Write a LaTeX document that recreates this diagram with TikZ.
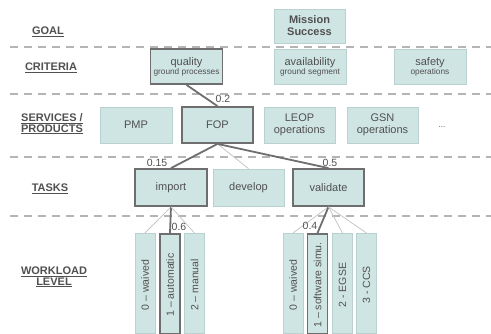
\documentclass[tikz,border=0pt]{standalone}
\usepackage{fontspec}
\setmainfont{Liberation Sans}
\definecolor{boxfill}{HTML}{CFE5E3}
\definecolor{boxedge}{HTML}{B9D2D0}
\definecolor{darkedge}{HTML}{6E6E6E}
\definecolor{txt}{HTML}{505050}
\definecolor{dashc}{HTML}{B4B4B4}
\definecolor{thinc}{HTML}{C6C6C6}
\begin{document}
\begin{tikzpicture}[x=1pt,y=-1pt,
  box/.style={draw=boxedge,line width=0.8pt,fill=boxfill,text=txt,inner sep=1pt,align=center,font=\fontsize{11}{12}\selectfont},
  hbox/.style={box,draw=darkedge,line width=1.8pt},
  vbox/.style={draw=boxedge,line width=0.8pt,fill=boxfill,minimum width=20pt,minimum height=100pt,anchor=north,inner sep=0pt},
  hvbox/.style={vbox,draw=darkedge,line width=1.8pt},
  vtext/.style={rotate=90,text=txt,font=\fontsize{10.5}{11}\selectfont},
  lvl/.style={text=txt,font=\bfseries\fontsize{11}{12.5}\selectfont,align=center},
  sep/.style={dashc,line width=1.2pt,dash pattern=on 8pt off 6pt},
  strong/.style={darkedge,line width=1.8pt},
  weak/.style={thinc,line width=0.8pt},
  sub/.style={},
  wt/.style={text=txt,font=\fontsize{10.5}{11}\selectfont,inner sep=0pt}]
\useasboundingbox (0,0) rectangle (491,333);
% separators
\draw[sep] (10,47) -- (491,47);
\draw[sep] (10,94) -- (491,94);
\draw[sep] (10,157) -- (491,157);
\draw[sep] (10,216) -- (491,216);
% level labels
\node[lvl] (lgoal) at (48,32) {\underline{GOAL}};
\node[lvl] (lcrit) at (51,68) {\underline{CRITERIA}};
\node[lvl] (lserv) at (52,124) {\underline{SERVICES /}\\[-2pt]\underline{PRODUCTS}};
\node[lvl] (ltask) at (50,189) {\underline{TASKS}};
\node[lvl] (lwork) at (54,277) {\underline{WORKLOAD}\\[-2pt]\underline{LEVEL}};
% goal
\node[box,minimum width=71pt,minimum height=34pt,font=\bfseries\fontsize{11}{12}\selectfont] (mission) at (309.5,26) {Mission\\Success};
% criteria
\node[hbox,minimum width=72pt,minimum height=35pt] (quality) at (186.5,66.5) {quality\\[-3pt]{\fontsize{8.3}{9}\selectfont ground processes}};
\node[box,minimum width=72pt,minimum height=35pt] (avail) at (310,66.5) {availability\\[-3pt]{\fontsize{8.3}{9}\selectfont ground segment}};
\node[box,minimum width=72pt,minimum height=35pt] (safety) at (430,66.5) {safety\\[-3pt]{\fontsize{8.3}{9}\selectfont operations}};
% services
\node[box,minimum width=72pt,minimum height=36pt] (pmp) at (136,125) {PMP};
\node[hbox,minimum width=71pt,minimum height=36pt] (fop) at (217.5,125) {FOP};
\node[box,minimum width=71pt,minimum height=36pt] (leop) at (299.5,125) {LEOP\\operations};
\node[box,minimum width=71pt,minimum height=36pt] (gsn) at (382.5,125) {GSN\\operations};
\node[text=txt,font=\fontsize{8}{9}\selectfont] (dots) at (442,127) {...};
% tasks
\node[hbox,minimum width=72pt,minimum height=37pt] (import) at (171,187.5) {import};
\node[box,minimum width=71pt,minimum height=37pt] (develop) at (248.5,187.5) {develop};
\node[hbox,minimum width=71pt,minimum height=37pt] (validate) at (328.5,187.5) {validate};
% workload import
\node[vbox] (iw0) at (145,233) {};
\node[hvbox] (iw1) at (170,233) {};
\node[vbox] (iw2) at (194.5,233) {};
\node[vtext] at (145,285) {0 – waived};
\node[vtext] at (170,285) {1 – automatic};
\node[vtext] at (194.5,285) {2 – manual};
% workload validate
\node[vbox] (vw0) at (293,233) {};
\node[hvbox] (vw1) at (317.5,233) {};
\node[vbox] (vw2) at (342.5,233) {};
\node[vbox] (vw3) at (366.5,233) {};
\node[vtext] at (293,285) {0 – waived};
\node[vtext] at (317.5,285) {1 – software simu.};
\node[vtext] at (342.5,285) {2 - EGSE};
\node[vtext] at (366.5,285) {3 - CCS};
% connectors
\draw[strong] (quality.south) -- (fop.north);
\draw[strong] (fop.south) -- (import.north);
\draw[weak] (fop.south) -- (develop.north);
\draw[strong] (fop.south) -- (validate.north);
\draw[weak] (import.south) -- (iw0.north);
\draw[strong] (import.south) -- (iw1.north);
\draw[weak] (import.south) -- (iw2.north);
\draw[weak] (validate.south) -- (vw0.north);
\draw[strong] (validate.south) -- (vw1.north);
\draw[weak] (validate.south) -- (vw2.north);
\draw[weak] (validate.south) -- (vw3.north);
% weights
\node[wt] (w02) at (223,98.5) {0.2};
\node[wt] (w015) at (157,162.5) {0.15};
\node[wt] (w05) at (330,162.5) {0.5};
\node[wt] (w06) at (179,227) {0.6};
\node[wt] (w04) at (310,226) {0.4};
\end{tikzpicture}
\end{document}
